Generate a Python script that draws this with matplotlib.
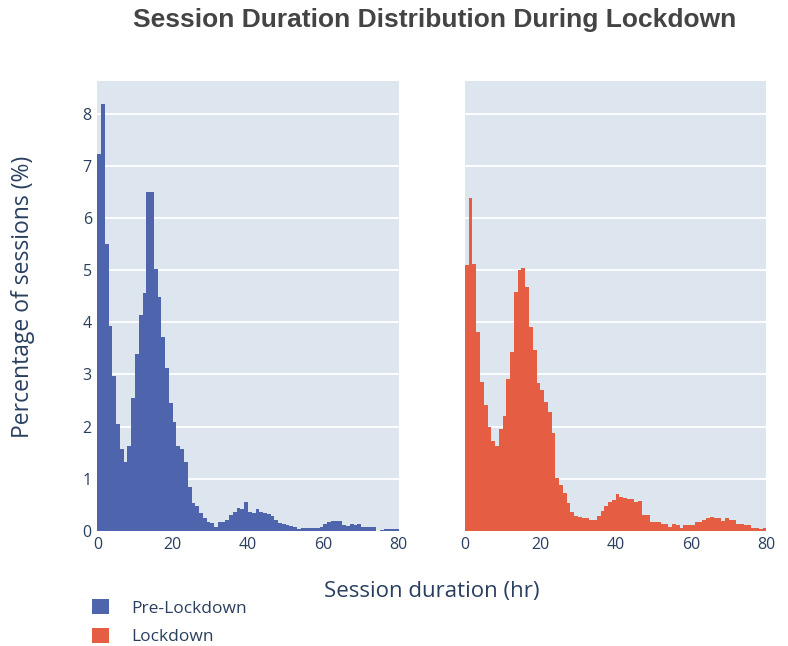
import numpy as np
import matplotlib.pyplot as plt
from matplotlib.patches import Patch

# Hourly bins 0..79, percentage of sessions in each bin
bin_edges = np.arange(0, 80)

pre_lockdown = [
    7.23, 8.19, 5.50, 3.93, 2.97, 2.05, 1.58, 1.33, 1.63, 2.55,
    3.39, 4.14, 4.57, 6.49, 6.49, 5.03, 4.49, 3.71, 3.12, 2.45,
    2.08, 1.62, 1.58, 1.33, 0.85, 0.53, 0.47, 0.35, 0.24, 0.18,
    0.15, 0.07, 0.17, 0.17, 0.21, 0.31, 0.37, 0.45, 0.42, 0.56,
    0.37, 0.35, 0.42, 0.36, 0.35, 0.33, 0.28, 0.22, 0.16, 0.14,
    0.12, 0.10, 0.08, 0.03, 0.05, 0.05, 0.05, 0.05, 0.05, 0.08,
    0.13, 0.17, 0.19, 0.19, 0.19, 0.12, 0.09, 0.14, 0.11, 0.14,
    0.08, 0.07, 0.07, 0.07, 0.00, 0.02, 0.04, 0.03, 0.03, 0.03,
]

lockdown = [
    5.10, 6.39, 5.11, 3.82, 2.86, 2.41, 1.99, 1.72, 1.62, 1.95,
    2.21, 2.91, 3.44, 4.58, 5.01, 5.05, 4.68, 3.91, 3.47, 2.83,
    2.71, 2.48, 2.29, 1.88, 1.02, 0.88, 0.72, 0.53, 0.37, 0.29,
    0.27, 0.24, 0.24, 0.21, 0.21, 0.29, 0.39, 0.48, 0.55, 0.59,
    0.70, 0.65, 0.64, 0.61, 0.61, 0.55, 0.58, 0.31, 0.31, 0.18,
    0.18, 0.17, 0.13, 0.13, 0.08, 0.13, 0.11, 0.05, 0.11, 0.11,
    0.11, 0.18, 0.18, 0.22, 0.25, 0.27, 0.24, 0.24, 0.19, 0.24,
    0.21, 0.21, 0.13, 0.13, 0.11, 0.11, 0.05, 0.05, 0.03, 0.06,
]

series_names = ["Pre-Lockdown", "Lockdown"]
series_colors = ["#4E65AD", "#E55E44"]
x_ticks = [0, 20, 40, 60, 80]
y_ticks = [0, 1, 2, 3, 4, 5, 6, 7, 8]

plt.rcParams["font.family"] = ["Open Sans", "DejaVu Sans"]
text_color = "#2a3f5f"
bg_color = "#DDE5EF"

fig = plt.figure(figsize=(7.88, 6.46), dpi=100)
ax1 = fig.add_axes([0.1235, 0.178, 0.3825, 0.697])
ax2 = fig.add_axes([0.590, 0.178, 0.3825, 0.697], sharey=ax1)

for ax, values, color in zip([ax1, ax2], [pre_lockdown, lockdown], series_colors):
    ax.set_facecolor(bg_color)
    ax.bar(bin_edges, values, width=1.0, align="edge", color=color,
           linewidth=0, zorder=2)
    ax.set_xlim(0, 80)
    ax.set_ylim(0, 8.63)
    ax.set_xticks(x_ticks)
    ax.set_yticks(y_ticks)
    ax.grid(axis="y", color="white", linewidth=1.3, zorder=1)
    ax.grid(axis="x", visible=False)
    for side in ax.spines.values():
        side.set_visible(False)
    ax.tick_params(length=0, labelsize=11.5, labelcolor=text_color, pad=4)

ax2.tick_params(labelleft=False)

fig.text(0.029, 0.54, "Percentage of sessions (%)", fontsize=16.5,
         color=text_color, rotation=90, ha="center", va="center")
fig.text(0.548, 0.084, "Session duration (hr)", fontsize=16, color=text_color,
         ha="center", va="center")

fig.suptitle("Session Duration Distribution During Lockdown",
             x=0.551, y=0.969, va="center", fontsize=19, fontweight="bold",
             family="Liberation Sans", color="#444444")

handles = [Patch(facecolor=c, edgecolor="none") for c in series_colors]
fig.legend(handles, series_names, loc="upper left",
           bbox_to_anchor=(0.108, 0.083), frameon=False, fontsize=12.5,
           labelcolor=text_color, handlelength=0.95, handleheight=0.95,
           handletextpad=1.3, labelspacing=0.62, borderaxespad=0)

fig.savefig("out.png", dpi=100)
plt.close(fig)
